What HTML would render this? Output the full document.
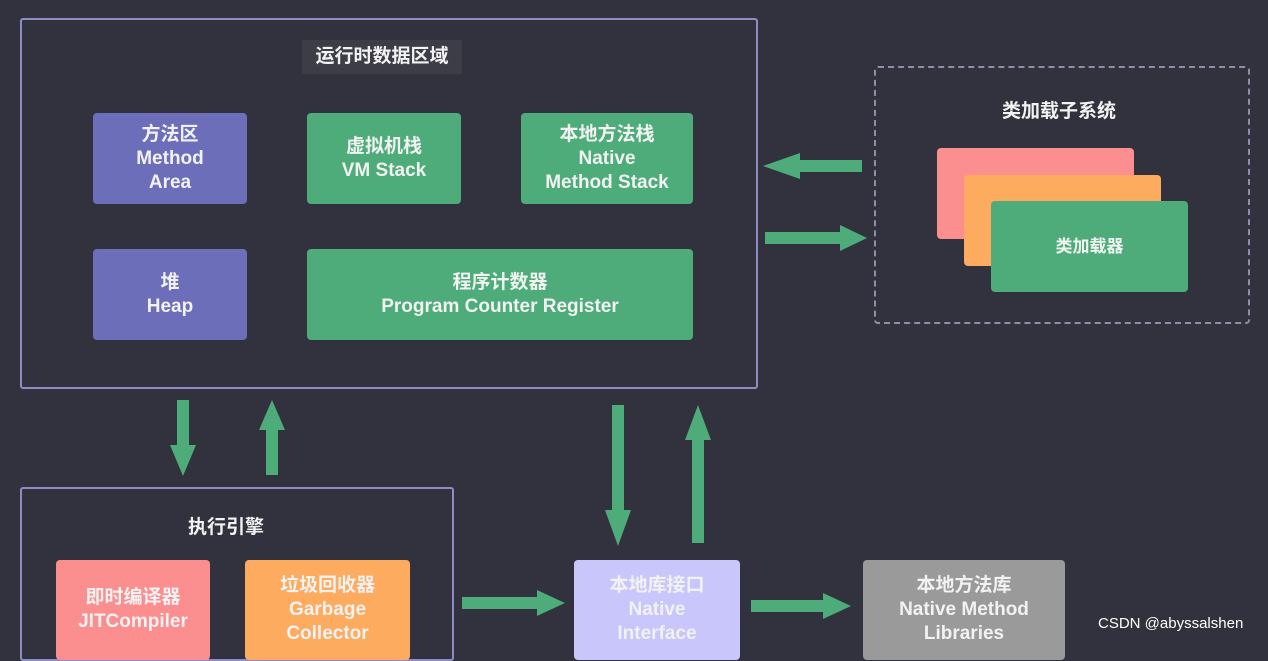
<!DOCTYPE html>
<html><head><meta charset="utf-8"><style>
body{margin:0;width:1268px;height:644px;background:#31323d;overflow:hidden;position:relative;font-family:"Liberation Sans","Noto Sans CJK SC",sans-serif;font-weight:bold;color:#f2f2f2}
.b{position:absolute;border-radius:4px;display:flex;flex-direction:column;align-items:center;justify-content:center;text-align:center;font-size:19px;line-height:24px}
.p{background:#6c6eba}.g{background:#4dac79}
.f{position:absolute;border:2px solid #8e8cc6;border-radius:3px}
.t{position:absolute;font-size:19px}
</style></head><body>
<div class="f" style="left:20px;top:18px;width:734px;height:367px"></div>
<div class="t" style="left:302px;top:40px;width:160px;height:34px;background:#3c3d47;line-height:34px;text-align:center">运行时数据区域</div>
<div class="b p" style="left:93px;top:113px;width:154px;height:91px">方法区<br>Method<br>Area</div>
<div class="b g" style="left:307px;top:113px;width:154px;height:91px">虚拟机栈<br>VM Stack</div>
<div class="b g" style="left:521px;top:113px;width:172px;height:91px">本地方法栈<br>Native<br>Method Stack</div>
<div class="b p" style="left:93px;top:249px;width:154px;height:91px">堆<br>Heap</div>
<div class="b g" style="left:307px;top:249px;width:386px;height:91px">程序计数器<br>Program Counter Register</div>
<div style="position:absolute;left:874px;top:66px;width:372px;height:254px;border:2px dashed #8e8ea8;border-radius:4px"></div>
<div class="t" style="left:1002px;top:96px">类加载子系统</div>
<div style="position:absolute;left:937px;top:148px;width:197px;height:91px;background:#fb8f8f;border-radius:4px"></div>
<div style="position:absolute;left:964px;top:175px;width:197px;height:91px;background:#fdab5f;border-radius:4px"></div>
<div class="b g" style="left:991px;top:201px;width:197px;height:91px;font-size:17px">类加载器</div>
<div class="f" style="left:20px;top:487px;width:430px;height:170px"></div>
<div class="t" style="left:188px;top:512px">执行引擎</div>
<div class="b" style="left:56px;top:560px;width:154px;height:100px;background:#fb8f8f">即时编译器<br>JITCompiler</div>
<div class="b" style="left:245px;top:560px;width:165px;height:100px;background:#fdab5f">垃圾回收器<br>Garbage<br>Collector</div>
<div class="b" style="left:574px;top:560px;width:166px;height:100px;background:#c8c6fb">本地库接口<br>Native<br>Interface</div>
<div class="b" style="left:863px;top:560px;width:202px;height:100px;background:#9a9a9a">本地方法库<br>Native Method<br>Libraries</div>
<div style="position:absolute;left:1098px;top:615px;font-size:15px;font-weight:normal;color:#fff">CSDN @abyssalshen</div>
<svg width="1268" height="644" style="position:absolute;left:0;top:0" fill="#4dac79">
<polygon points="862,160 800,160 800,153 763,166 800,179 800,172 862,172"/>
<polygon points="765,232 840,232 840,225 867,238 840,251 840,244 765,244"/>
<polygon points="177,400 189,400 189,445 196,445 183,476 170,445 177,445"/>
<polygon points="266,475 278,475 278,430 285,430 272,400 259,430 266,430"/>
<polygon points="612,405 624,405 624,510 631,510 618,546 605,510 612,510"/>
<polygon points="692,543 704,543 704,440 711,440 698,405 685,440 692,440"/>
<polygon points="462,597 537,597 537,590 565,603 537,616 537,609 462,609"/>
<polygon points="751,600 823,600 823,593 851,606 823,619 823,612 751,612"/>
</svg>
</body></html>
